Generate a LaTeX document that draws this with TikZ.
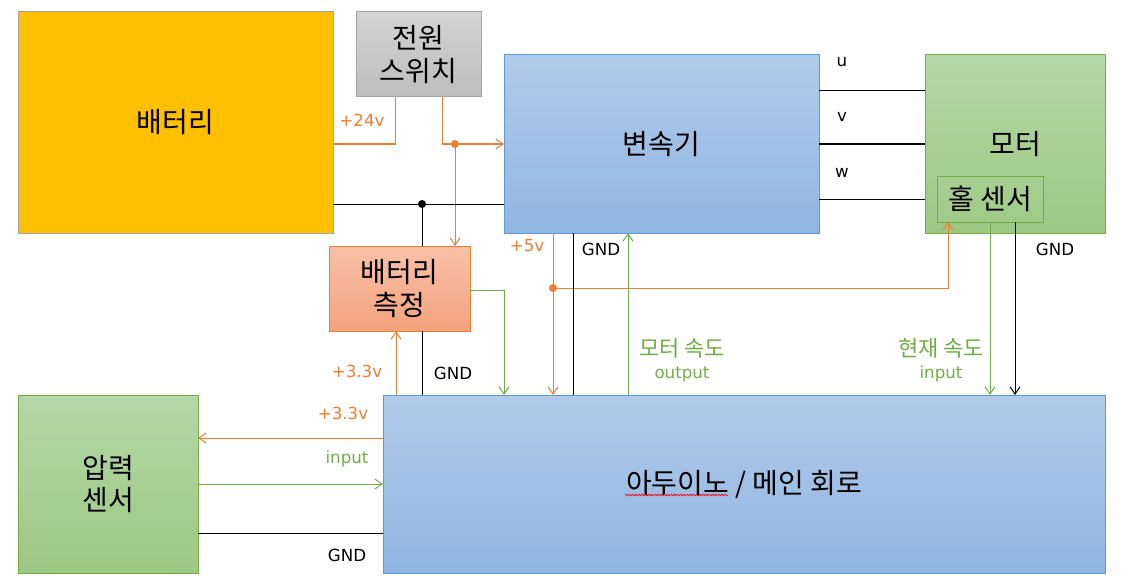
\documentclass[tikz,border=0pt]{standalone}
\usepackage{fontspec}
\setmainfont{Noto Sans CJK KR}
\newfontfamily\latinf{DejaVu Sans}
\usetikzlibrary{arrows.meta,fit,decorations.pathmorphing}
\definecolor{cOr}{HTML}{ED7D31}
\definecolor{cGr}{HTML}{70AD47}
\definecolor{cBl}{HTML}{5B9BD5}
\definecolor{cGy}{HTML}{A5A5A5}
\definecolor{cBat}{HTML}{FFC000}
\definecolor{bTop}{HTML}{B1CBE9}
\definecolor{bBot}{HTML}{91B5E2}
\definecolor{gTop}{HTML}{B6D7A8}
\definecolor{gBot}{HTML}{9DC882}
\definecolor{oTop}{HTML}{F8C1A8}
\definecolor{oBot}{HTML}{F4A27E}
\definecolor{sTop}{HTML}{D3D3D3}
\definecolor{sBot}{HTML}{BDBDBD}
\newcommand\mybig{\fontsize{21pt}{24.5pt}\selectfont}
\newcommand\mykor{\fontsize{16.5pt}{19.5pt}\selectfont}
\newcommand\mylat{\latinf\fontsize{12.5pt}{19.5pt}\selectfont}
\tikzset{
  box/.style={draw, line width=0.75pt, inner sep=0pt, outer sep=0pt},
  bluebox/.style={box, draw=cBl, top color=bTop, bottom color=bBot},
  greenbox/.style={box, draw=cGr, top color=gTop, bottom color=gBot},
  txt/.style={font=\mybig, inner sep=0pt, align=center},
  lbl/.style={font=\mylat, inner sep=0pt, align=center},
  klbl/.style={font=\mykor, inner sep=0pt, align=center},
  wire/.style={line width=0.75pt},
  oline/.style={wire, draw=cOr},
  gline/.style={wire, draw=cGr},
  bline/.style={wire, draw=black},
  arr/.style={-{Straight Barb[length=5.5pt,width=7.5pt]}},
}
\begin{document}
\begin{tikzpicture}[x=0.75pt,y=-0.75pt]
\useasboundingbox (0,0) rectangle (1136,585);
% boxes
\node[box, draw=cGy, fill=cBat, fit={(18,12) (333,233)}] (bat) {};
\node[box, draw=cGy, top color=sTop, bottom color=sBot, fit={(356,12) (481,97)}] (sw) {};
\node[bluebox, fit={(504,55) (819,233)}] (inv) {};
\node[greenbox, fit={(925,55) (1105,233)}] (mot) {};
\node[box, draw=cGr, top color=gTop!45!gBot, bottom color=gBot!85!gTop, fit={(937,176) (1043,222)}] (hall) {};
\node[box, draw=cOr, top color=oTop, bottom color=oBot, fit={(329,246) (470,331)}] (meas) {};
\node[bluebox, fit={(383,395) (1105,573)}] (ard) {};
\node[greenbox, fit={(18,395) (198,573)}] (pres) {};
% box texts
\node[txt] (tbat) at (bat.center) {배터리};
\node[txt] (tsw) at (sw.center) {전원\\스위치};
\node[txt] (tinv) at (inv.center) {변속기};
\node[txt] (tmot) at (mot.center) {모터};
\node[txt] (thall) at (hall.center) {홀 센서};
\node[txt] (tmeas) at (meas.center) {배터리\\측정};
\node[txt] (tard) at (ard.center) {아두이노 / 메인 회로};
\node[txt] (tpres) at (pres.center) {압력\\센서};
% spelling underline
\draw[red, line width=0.5pt, decorate, decoration={snake, amplitude=0.6pt, segment length=2.4pt}] (625,495) -- (728,495);
% junctions
\coordinate (j1) at (422,204);
\coordinate (j2) at (455,144);
\coordinate (j3) at (553,288);
% battery / switch / inverter
\draw[oline] (bat.east |- j2) -| (sw.south -| 395,0);
\draw[oline, arr] (sw.south -| 442,0) |- (inv.west |- j2);
\draw[oline, arr] (j2) -- (meas.north -| j2);
\fill[cOr] (j2) circle (3pt);
\draw[bline] (bat.east |- j1) -- (inv.west |- j1);
\draw[bline] (j1) -- (meas.north -| j1);
\fill[black] (j1) circle (3pt);
% measurement
\draw[bline] (meas.south -| j1) -- (ard.north -| j1);
\draw[oline, arr] (ard.north -| 396,0) -- (meas.south -| 396,0);
\draw[gline, arr] (meas.east |- 0,290) -| (ard.north -| 504,0);
% inverter to arduino
\draw[oline, arr] (inv.south -| j3) -- (ard.north -| j3);
\draw[oline, arr] (j3) -| (hall.south -| 948,0);
\fill[cOr] (j3) circle (3pt);
\draw[bline] (inv.south -| 573,0) -- (ard.north -| 573,0);
\draw[gline, arr] (ard.north -| 628,0) -- (inv.south -| 628,0);
% hall sensor to arduino
\draw[gline, arr] (hall.south -| 990,0) -- (ard.north -| 990,0);
\draw[bline, arr] (hall.south -| 1015,0) -- (ard.north -| 1015,0);
% motor phases
\draw[bline] (inv.east |- 0,91) -- (mot.west |- 0,91);
\draw[bline] (inv.east |- 0,144) -- (mot.west |- 0,144);
\draw[bline] (inv.east |- 0,199) -- (mot.west |- 0,199);
% pressure sensor
\draw[oline, arr] (ard.west |- 0,438) -- (pres.east |- 0,438);
\draw[gline, arr] (pres.east |- 0,484) -- (ard.west |- 0,484);
\draw[bline] (pres.east |- 0,533) -- (ard.west |- 0,533);
% labels
\node[lbl, text=cOr] (l24) at (362,120) {+24v};
\node[lbl] (lu) at (842,62) {u};
\node[lbl] (lv) at (842,117) {v};
\node[lbl] (lw) at (842,173) {w};
\node[lbl, text=cOr] (l5) at (527,246) {+5v};
\node[lbl] (lg1) at (601,249) {GND};
\node[lbl] (lg2) at (1055,249) {GND};
\node[lbl] (lg3) at (453,373) {GND};
\node[lbl] (lg4) at (347,555) {GND};
\node[lbl, text=cOr] (l33a) at (357,371) {+3.3v};
\node[lbl, text=cOr] (l33b) at (343,413) {+3.3v};
\node[lbl, text=cGr] (lin) at (347,459) {input};
\node[klbl, text=cGr] (lms) at (682,348) {모터 속도};
\node[lbl, text=cGr] (lmo) at (682,374) {output};
\node[klbl, text=cGr] (lcs) at (941,348) {현재 속도};
\node[lbl, text=cGr] (lci) at (941,374) {input};
\end{tikzpicture}
\end{document}
